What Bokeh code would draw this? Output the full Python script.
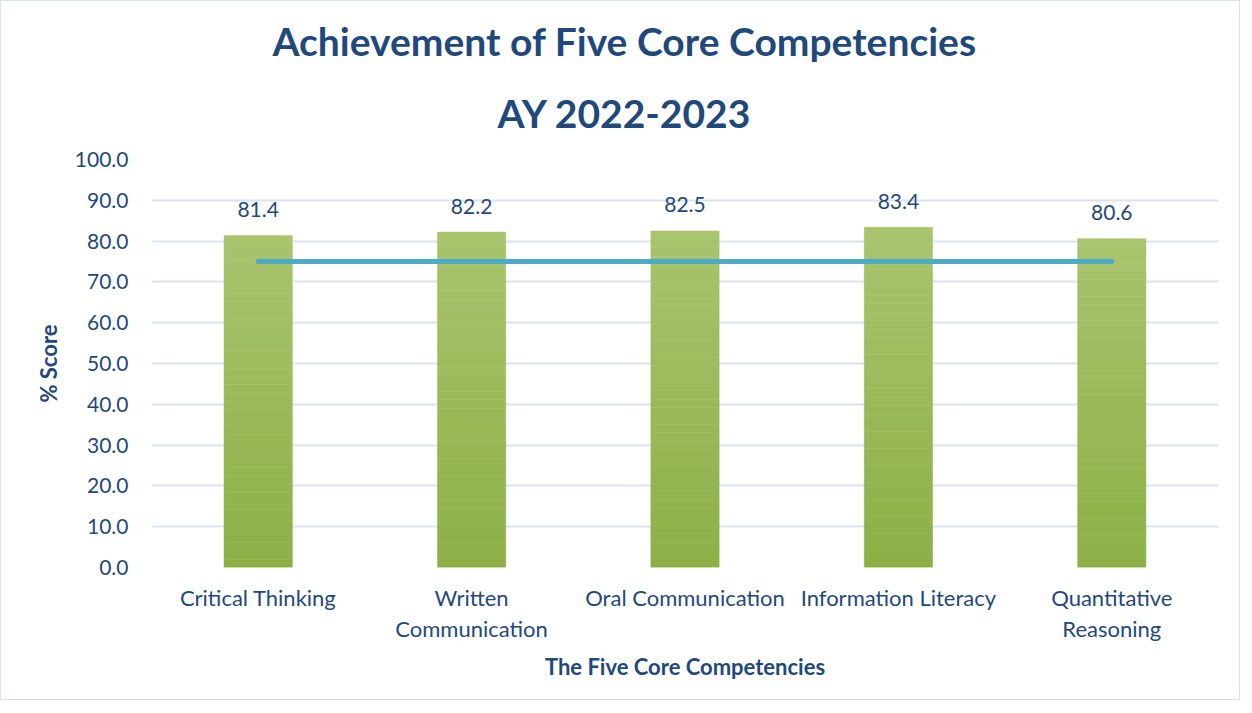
from bokeh.plotting import figure
from bokeh.models import (ColumnDataSource, LabelSet, Title, FixedTicker, NumeralTickFormatter,
                          Range1d, LinearAxis)
from bokeh.core.properties import value
from bokeh.embed import file_html
from bokeh.resources import INLINE

categories = ["Critical Thinking", "Written Communication", "Oral Communication",
              "Information Literacy", "Quantitative Reasoning"]
label_line1 = ["Critical Thinking", "Written", "Oral Communication",
               "Information Literacy", "Quantitative"]
label_line2 = ["", "Communication", "", "", "Reasoning"]
scores = [81.4, 82.2, 82.5, 83.4, 80.6]
target = [75, 75, 75, 75, 75]
y_ticks = [0, 10, 20, 30, 40, 50, 60, 70, 80, 90, 100]

FONT = "Lato"
DARK = "#1F497D"
GRID = "#D9E3F2"

# category slots: each category centred in its own unit slot
pos = [i + 0.5 for i in range(len(categories))]

p = figure(x_range=Range1d(0, len(categories)), y_range=Range1d(0, 100), width=1240, height=700,
           output_backend="svg", toolbar_location=None, x_axis_type=None,
           min_border_left=150, min_border_right=23, min_border_top=158, min_border_bottom=134)
p.styles = {"border": "1px solid #D6E2F2"}
p.outline_line_color = None
p.background_fill_color = "white"
p.border_fill_color = "white"

# bars with vertical gradient built from stacked slices of each value
N = 40
top_rgb = (0xA8, 0xC4, 0x6E)
bot_rgb = (0x8C, 0xB0, 0x45)
xs, bottoms, tops, colors = [], [], [], []
for x, v in zip(pos, scores):
    for i in range(N):
        t = (i + 0.5) / N
        rgb = tuple(int(round(b + (a - b) * t)) for a, b in zip(top_rgb, bot_rgb))
        xs.append(x)
        bottoms.append(v * i / N)
        tops.append(v * (i + 1) / N)
        colors.append("#%02X%02X%02X" % rgb)
p.vbar(x=xs, bottom=bottoms, top=tops, width=0.32, fill_color=colors, line_color=colors, line_width=0.5)

p.line(pos, target, line_width=5, line_color="#4BACC6", line_cap="round")

src = ColumnDataSource(dict(x=pos, y=scores, t=["%.1f" % s for s in scores]))
p.add_layout(LabelSet(x="x", y="y", text="t", source=src, y_offset=26,
                      text_align="center", text_baseline="middle",
                      text_font=value(FONT), text_font_size="21px", text_color=DARK))

# y axis
p.yaxis.ticker = FixedTicker(ticks=y_ticks)
p.yaxis.formatter = NumeralTickFormatter(format="0.0")
p.yaxis.axis_line_color = None
p.yaxis.major_tick_line_color = None
p.yaxis.minor_tick_line_color = None
p.yaxis.major_label_text_font = FONT
p.yaxis.major_label_text_font_size = "21px"
p.yaxis.major_label_text_color = DARK
p.yaxis.major_label_standoff = 17
p.yaxis.axis_label = "% Score"
p.yaxis.axis_label_text_font = FONT
p.yaxis.axis_label_text_font_size = "22px"
p.yaxis.axis_label_text_font_style = "bold"
p.yaxis.axis_label_text_color = DARK
p.yaxis.axis_label_standoff = 10


def x_axis(ticks, overrides, standoff):
    ax = LinearAxis(ticker=FixedTicker(ticks=ticks), major_label_overrides=overrides)
    ax.axis_line_color = None
    ax.major_tick_line_color = None
    ax.minor_tick_line_color = None
    ax.major_tick_out = 0
    ax.major_tick_in = 0
    ax.minor_tick_out = 0
    ax.major_label_text_font = FONT
    ax.major_label_text_font_size = "22px"
    ax.major_label_text_color = DARK
    ax.major_label_standoff = standoff
    return ax


# first line of category labels
xa = x_axis(pos, dict(zip(pos, label_line1)), 16)
p.add_layout(xa, "below")

# second line of the wrapped category labels
pos2 = [x for x, s in zip(pos, label_line2) if s]
xb = x_axis(pos2, {x: s for x, s in zip(pos, label_line2) if s}, 1)
p.add_layout(xb, "below")

xt = Title(text="The Five Core Competencies", align="center", standoff=12, text_font=FONT,
           text_font_size="22px", text_font_style="bold", text_color=DARK)
p.add_layout(xt, "below")

p.ygrid.grid_line_color = GRID
p.ygrid.grid_line_width = 2

t2 = Title(text="AY 2022-2023", align="left", offset=346, standoff=48, text_font=FONT,
           text_font_size="39px", text_font_style="bold", text_color=DARK)
t1 = Title(text="Achievement of Five Core Competencies", align="left", offset=121, standoff=0,
           text_font=FONT, text_font_size="39px", text_font_style="bold", text_color=DARK)
p.add_layout(t2, "above")
p.add_layout(t1, "above")

open("out.html", "w").write(file_html(p, INLINE))
